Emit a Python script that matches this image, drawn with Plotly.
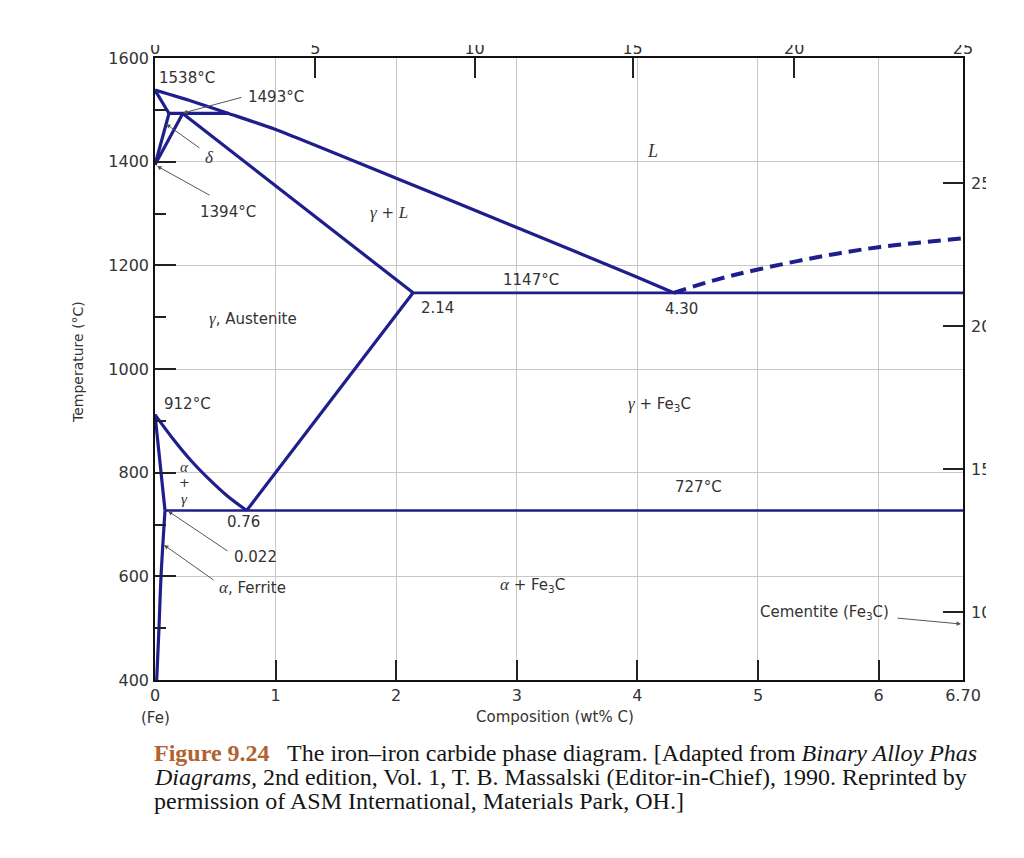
import plotly.graph_objects as go

# ---------------- data (composition wt% C, temperature °C) ----------------
liquidus_c = [0.0, 0.30, 0.61, 1.0, 2.0, 3.0, 4.0, 4.30]
liquidus_t = [1538, 1517, 1493, 1462, 1368, 1273, 1177, 1147]

solidus_c = [0.23, 2.14]
solidus_t = [1493, 1147]

delta_liq_c = [0.0, 0.116]
delta_liq_t = [1538, 1493]

delta_gam_c = [0.116, 0.0]
delta_gam_t = [1493, 1394]

gam_delta_c = [0.23, 0.0]
gam_delta_t = [1493, 1394]

peritectic_c = [0.116, 0.61]
peritectic_t = [1493, 1493]

eutectic_c = [2.14, 6.70]
eutectic_t = [1147, 1147]

cem_liq_c = [4.30, 4.65, 5.0, 5.5, 6.0, 6.70]
cem_liq_t = [1147, 1172, 1192, 1216, 1235, 1252]

acm_c = [0.76, 2.14]
acm_t = [727, 1147]

a3_c = [0.0, 0.15, 0.30, 0.45, 0.60, 0.76]
a3_t = [912, 865, 823, 787, 755, 727]

alpha_gam_c = [0.0, 0.083]
alpha_gam_t = [912, 727]

eutectoid_c = [0.083, 6.70]
eutectoid_t = [727, 727]

solvus_c = [0.083, 0.05, 0.033, 0.014]
solvus_t = [727, 600, 500, 400]

# ---------------- ticks ----------------
x_tickvals = [0, 1, 2, 3, 4, 5, 6, 6.70]
x_ticktext = ["0", "1", "2", "3", "4", "5", "6", "6.70"]
top_tickvals = [0, 1.33, 2.65, 3.96, 5.30, 6.70]
top_ticktext = ["0", "5", "10", "15", "20", "25"]
y_tickvals = [400, 600, 800, 1000, 1200, 1400, 1600]
y_minor = [500, 700, 900, 1100, 1300, 1500]
f_tickvals = [1000, 1500, 2000, 2500]

# ---------------- geometry helpers (pixel -> axis/paper) ----------------
L, R, T, B = 155, 963, 58, 680
X0, X1, Y0, Y1 = 0.0, 6.70, 400.0, 1600.0


def xd(px):
    return X0 + (px - L) / (R - L) * (X1 - X0)


def yd(py):
    return Y0 + (B - py) / (B - T) * (Y1 - Y0)


def xp(px):
    return (px - L) / (R - L)


def yp(py):
    return (B - py) / (B - T)


NAVY = "#1e1e8c"
TXT = "#333333"

fig = go.Figure()


def line(xs, ys, width=3.2, dash=None, shape="linear", smoothing=1.0):
    fig.add_trace(go.Scatter(x=xs, y=ys, mode="lines",
                             line=dict(color=NAVY, width=width, dash=dash, shape=shape,
                                       smoothing=smoothing),
                             hoverinfo="skip"))


line(liquidus_c, liquidus_t, shape="spline", smoothing=0.6)
line(solidus_c, solidus_t)
line(delta_liq_c, delta_liq_t)
line(delta_gam_c, delta_gam_t)
line(gam_delta_c, gam_delta_t)
line(peritectic_c, peritectic_t)
line(eutectic_c, eutectic_t, width=2.7)
line(cem_liq_c, cem_liq_t, width=4, dash="13px,7px", shape="spline")
line(acm_c, acm_t)
line(a3_c, a3_t, shape="spline")
line(alpha_gam_c, alpha_gam_t)
line(eutectoid_c, eutectoid_t, width=2.7)
line(solvus_c, solvus_t, shape="spline")

# dummy trace for secondary axes
fig.add_trace(go.Scatter(x=[None], y=[None], xaxis="x2", yaxis="y2", mode="lines",
                         hoverinfo="skip", showlegend=False))

tickfont = dict(family="DejaVu Sans", size=16, color=TXT)

fig.update_layout(
    width=1024, height=858,
    margin=dict(l=L, r=1024 - R, t=T, b=858 - B),
    paper_bgcolor="white", plot_bgcolor="white",
    showlegend=False,
    font=dict(family="DejaVu Sans", size=15, color=TXT),
    xaxis=dict(range=[X0, X1], tickvals=x_tickvals, ticktext=x_ticktext,
               ticks="inside", ticklen=20, tickwidth=1.5, tickcolor="#222",
               showgrid=True, gridcolor="#c8c8c8", gridwidth=1.2,
               showline=True, linecolor="#111", linewidth=1.6, mirror=True,
               zeroline=False, tickfont=tickfont, ticklabelstandoff=0),
    yaxis=dict(range=[Y0, Y1], tickvals=y_tickvals,
               ticks="inside", ticklen=21, tickwidth=1.5, tickcolor="#222",
               minor=dict(tickvals=y_minor, ticks="inside", ticklen=11,
                          tickwidth=1.5, tickcolor="#222", showgrid=False),
               showgrid=True, gridcolor="#c8c8c8", gridwidth=1.2,
               showline=True, linecolor="#111", linewidth=1.6, mirror=True,
               zeroline=False, tickfont=tickfont, ticklabelstandoff=1),
    xaxis2=dict(range=[X0, X1], overlaying="x", side="top", anchor="y2",
                tickvals=top_tickvals, ticktext=top_ticktext,
                ticks="inside", ticklen=20, tickwidth=1.5, tickcolor="#222",
                showgrid=False, showline=False, zeroline=False, tickfont=tickfont),
    yaxis2=dict(range=[762, 2937], overlaying="y", side="right", anchor="x2",
                tickvals=f_tickvals, ticktext=[str(v) for v in f_tickvals],
                ticks="inside", ticklen=20, tickwidth=1.5, tickcolor="#222",
                showgrid=False, showline=False, zeroline=False, tickfont=tickfont,
                ticklabelstandoff=7),
)

# masks mimicking the cropped edges of the original picture
fig.add_shape(type="rect", xref="paper", yref="paper", layer="above",
              x0=-0.3, x1=1.3, y0=yp(45), y1=yp(-20),
              fillcolor="white", line=dict(width=0))
fig.add_shape(type="rect", xref="paper", yref="paper", layer="above",
              x0=xp(986), x1=xp(1040), y0=-0.5, y1=1.2,
              fillcolor="white", line=dict(width=0))


def g(s, size=17):
    return f'<span style="font-family:Liberation Serif;font-size:{size}px"><i>{s}</i></span>'


def label(text, px, py, xanchor="center", size=15):
    fig.add_annotation(x=xd(px), y=yd(py), xref="x", yref="y", text=text,
                       showarrow=False, xanchor=xanchor, yanchor="middle",
                       font=dict(family="DejaVu Sans", size=size, color=TXT))


def arrow(hx, hy, tx, ty):
    fig.add_annotation(x=xd(hx), y=yd(hy), ax=xd(tx), ay=yd(ty),
                       xref="x", yref="y", axref="x", ayref="y", text="",
                       showarrow=True, arrowhead=2, arrowsize=0.9, arrowwidth=1,
                       arrowcolor="#555")


label("1538°C", 157, 78, xanchor="left")
label("1493°C", 276, 97)
label(g("δ"), 209, 157)
label("1394°C", 228, 212)
label(g("γ") + " + " + g("L"), 389, 212)
label(g("L", 18), 652, 151)
label("1147°C", 531, 280)
label("2.14", 437, 308)
label("4.30", 681, 309)
label(g("γ") + ", Austenite", 253, 318)
label("912°C", 187, 404)
label(g("γ") + " + Fe<sub>3</sub>C", 659, 404)
label(g("α", 15), 184, 467, size=12)
label("+", 184, 482, size=13)
label(g("γ", 15), 184, 499, size=12)
label("727°C", 698, 487)
label("0.76", 243, 522)
label("0.022", 255, 557)
label(g("α") + ", Ferrite", 252, 587)
label(g("α") + " + Fe<sub>3</sub>C", 532, 585)
label("Cementite (Fe<sub>3</sub>C)", 824, 612)

arrow(183, 113, 243, 97)
arrow(166, 124, 201, 149)
arrow(157, 166, 211, 196)
arrow(168, 511, 229, 552)
arrow(164, 545, 215, 581)
arrow(961, 624, 896, 618)

# axis titles and outside text
fig.add_annotation(x=xp(155), y=yp(718), xref="paper", yref="paper", text="(Fe)",
                   showarrow=False, xanchor="center", yanchor="middle",
                   font=dict(family="DejaVu Sans", size=15, color=TXT))
fig.add_annotation(x=xp(555), y=yp(717), xref="paper", yref="paper",
                   text="Composition (wt% C)", showarrow=False,
                   xanchor="center", yanchor="middle",
                   font=dict(family="DejaVu Sans", size=15, color=TXT))
fig.add_annotation(x=xp(78), y=yp(362), xref="paper", yref="paper",
                   text="Temperature (°C)", showarrow=False, textangle=-90,
                   xanchor="center", yanchor="middle",
                   font=dict(family="DejaVu Sans", size=14, color=TXT))

caption = [
    '<span style="color:#b1622e"><b>Figure 9.24</b></span>\u00a0\u00a0 The iron–iron carbide phase diagram. [Adapted from <i>Binary Alloy Phas</i>',
    '<i>Diagrams,</i> 2nd edition, Vol. 1, T. B. Massalski (Editor-in-Chief), 1990. Reprinted by',
    'permission of ASM International, Materials Park, OH.]',
]
for i, c in enumerate(caption):
    fig.add_annotation(x=xp(152), y=yp(753 + 24 * i), xref="paper", yref="paper",
                       text=c, showarrow=False, xanchor="left", yanchor="middle",
                       font=dict(family="Liberation Serif", size=24, color="#151515"))

fig.write_html("out.html")
